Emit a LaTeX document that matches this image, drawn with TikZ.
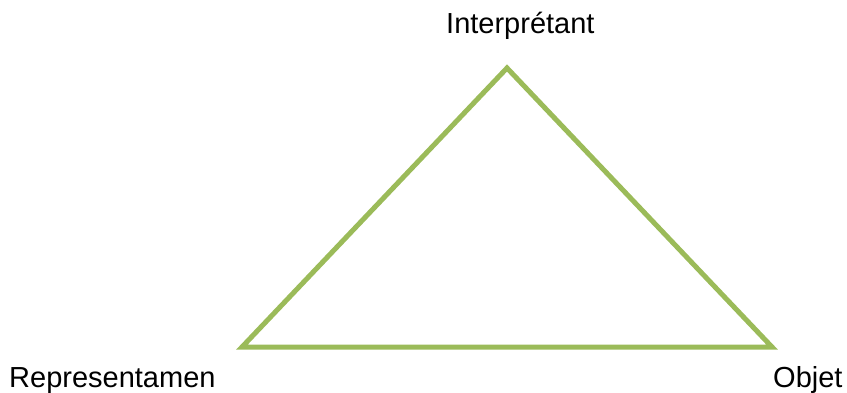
\documentclass[tikz,border=0pt]{standalone}
\usepackage{fontspec}
\setmainfont{Liberation Sans}
\usepackage{tikz}
\definecolor{triangreen}{RGB}{155,187,89}

\begin{document}
\begin{tikzpicture}[x=1pt,y=1pt,
		side/.style={line width=5pt,draw=triangreen},
		lbl/.style={inner sep=0pt,font=\fontsize{29}{33}\selectfont}]
		\useasboundingbox (0,0) rectangle (847,392);
		% corners of the triangle
		\coordinate (I) at (507,324);
		\coordinate (R) at (242,45);
		\coordinate (O) at (772,45);
		\draw[side] (R) -- (I) -- (O) -- cycle;
		% labels
		\node[lbl,anchor=base west] (interp) at (446,359) {Interprétant};
		\node[lbl,anchor=base west] (repr) at (9,5) {Representamen};
		\node[lbl,anchor=base west] (obj) at (773,5) {Objet};
	\end{tikzpicture}
\end{document}
